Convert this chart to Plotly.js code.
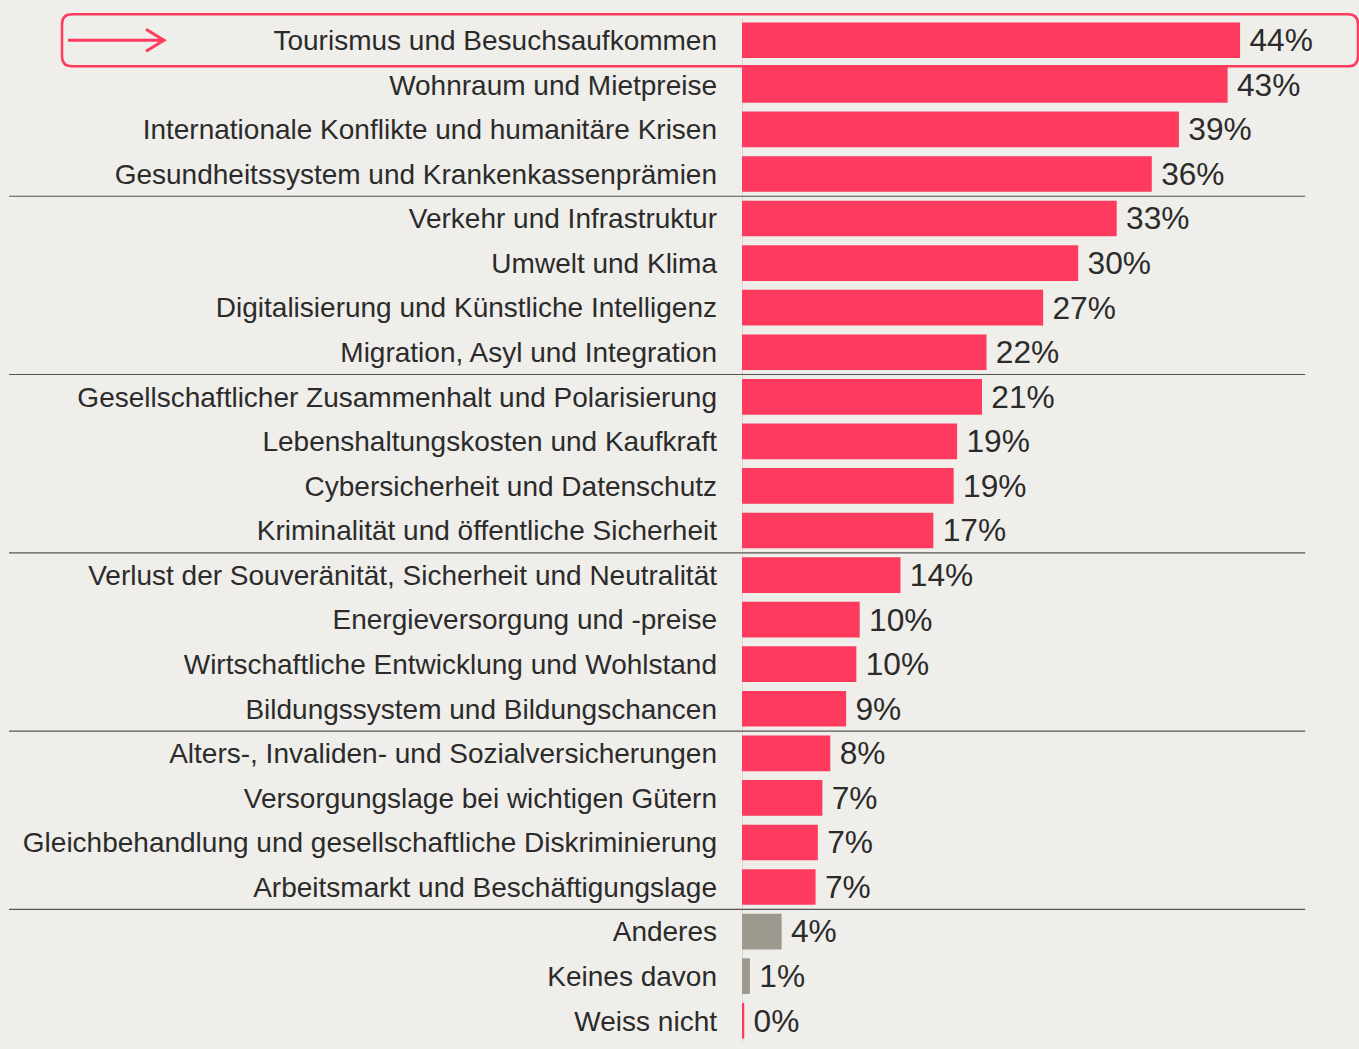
<!DOCTYPE html>
<html>
<head>
<meta charset="utf-8">
<script src="https://cdn.plot.ly/plotly-3.0.1.min.js"></script>
<style>
  html, body { margin: 0; padding: 0; background: #f0eeea; }
  #chart { width: 1359px; height: 1049px; }
</style>
</head>
<body>
<div id="chart"></div>
<script>
// topics, top to bottom
const topics = [
  "Tourismus und Besuchsaufkommen",
  "Wohnraum und Mietpreise",
  "Internationale Konflikte und humanitäre Krisen",
  "Gesundheitssystem und Krankenkassenprämien",
  "Verkehr und Infrastruktur",
  "Umwelt und Klima",
  "Digitalisierung und Künstliche Intelligenz",
  "Migration, Asyl und Integration",
  "Gesellschaftlicher Zusammenhalt und Polarisierung",
  "Lebenshaltungskosten und Kaufkraft",
  "Cybersicherheit und Datenschutz",
  "Kriminalität und öffentliche Sicherheit",
  "Verlust der Souveränität, Sicherheit und Neutralität",
  "Energieversorgung und -preise",
  "Wirtschaftliche Entwicklung und Wohlstand",
  "Bildungssystem und Bildungschancen",
  "Alters-, Invaliden- und Sozialversicherungen",
  "Versorgungslage bei wichtigen Gütern",
  "Gleichbehandlung und gesellschaftliche Diskriminierung",
  "Arbeitsmarkt und Beschäftigungslage",
  "Anderes",
  "Keines davon",
  "Weiss nicht"
];

// share in % (bar length)
const shares = [44.0, 42.9, 38.6, 36.2, 33.1, 29.7, 26.6, 21.6, 21.2, 19.0, 18.7, 16.9,
                14.0, 10.4, 10.1, 9.2, 7.8, 7.1, 6.7, 6.5, 3.5, 0.7, 0.2];

// rounded labels as printed
const shareLabels = [44, 43, 39, 36, 33, 30, 27, 22, 21, 19, 19, 17,
                     14, 10, 10, 9, 8, 7, 7, 7, 4, 1, 0];

// which rows are the "other" answers (grey)
const greyRows = ["Anderes", "Keines davon"];

// separator lines after every 4th topic
const separatorsAfter = [3, 7, 11, 15, 19];

const red = "#ff3a5f";
const grey = "#9c9a8f";
const ink = "#2b2b2b";

const barColors = topics.map(t => greyRows.includes(t) ? grey : red);

const trace = {
  type: "bar",
  orientation: "h",
  x: shares,
  y: topics,
  marker: { color: barColors, line: { width: 0 } },
  width: 0.8,
  text: shareLabels.map(v => "\u2009" + v + "%"),
  textposition: "outside",
  cliponaxis: false,
  textfont: { family: "Liberation Sans, Arial, sans-serif", size: 32, color: ink },
  hoverinfo: "skip"
};

const shapes = separatorsAfter.map(i => ({
  type: "line",
  xref: "paper", yref: "y",
  x0: -1.295, x1: 0.995,
  y0: i + 0.5, y1: i + 0.5,
  line: { color: "#555555", width: 1.2 },
  layer: "above"
}));

// highlight box + arrow around the first row, sized in pixels
// anchored at the left edge of the bars and the middle of row 0
const rowTop = 1 - 0.5 / topics.length;

shapes.push({
  type: "path",
  xref: "paper", yref: "paper",
  xsizemode: "pixel", ysizemode: "pixel",
  xanchor: 0, yanchor: rowTop,
  path: "M -670,26 L 606,26 Q 616,26 616,16 L 616,-16 Q 616,-26 606,-26 " +
        "L -670,-26 Q -680,-26 -680,-16 L -680,16 Q -680,26 -670,26 Z",
  line: { color: red, width: 2.5 },
  layer: "above"
});

shapes.push({
  type: "path",
  xref: "paper", yref: "paper",
  xsizemode: "pixel", ysizemode: "pixel",
  xanchor: 0, yanchor: rowTop,
  path: "M -674,0 L -578,0 M -596,11 L -578,0 L -596,-11",
  line: { color: red, width: 3 },
  layer: "above"
});

const layout = {
  width: 1359,
  height: 1049,
  paper_bgcolor: "#f0eeea",
  plot_bgcolor: "#f0eeea",
  margin: { l: 742, r: 51, t: 18, b: 6, pad: 0 },
  showlegend: false,
  bargap: 0.2,
  xaxis: {
    range: [0, 50],
    showgrid: false,
    zeroline: true,
    zerolinecolor: "#d9d7d1",
    zerolinewidth: 1,
    showticklabels: false,
    fixedrange: true
  },
  yaxis: {
    range: [topics.length - 0.5, -0.5],
    showgrid: false,
    showline: false,
    ticks: "",
    ticklabelstandoff: 24,
    tickfont: { family: "Liberation Sans, Arial, sans-serif", size: 28, color: ink },
    fixedrange: true
  },
  shapes: shapes,
  font: { family: "Liberation Sans, Arial, sans-serif", color: ink }
};

Plotly.newPlot("chart", [trace], layout, { displayModeBar: false, staticPlot: true });
</script>
</body>
</html>
